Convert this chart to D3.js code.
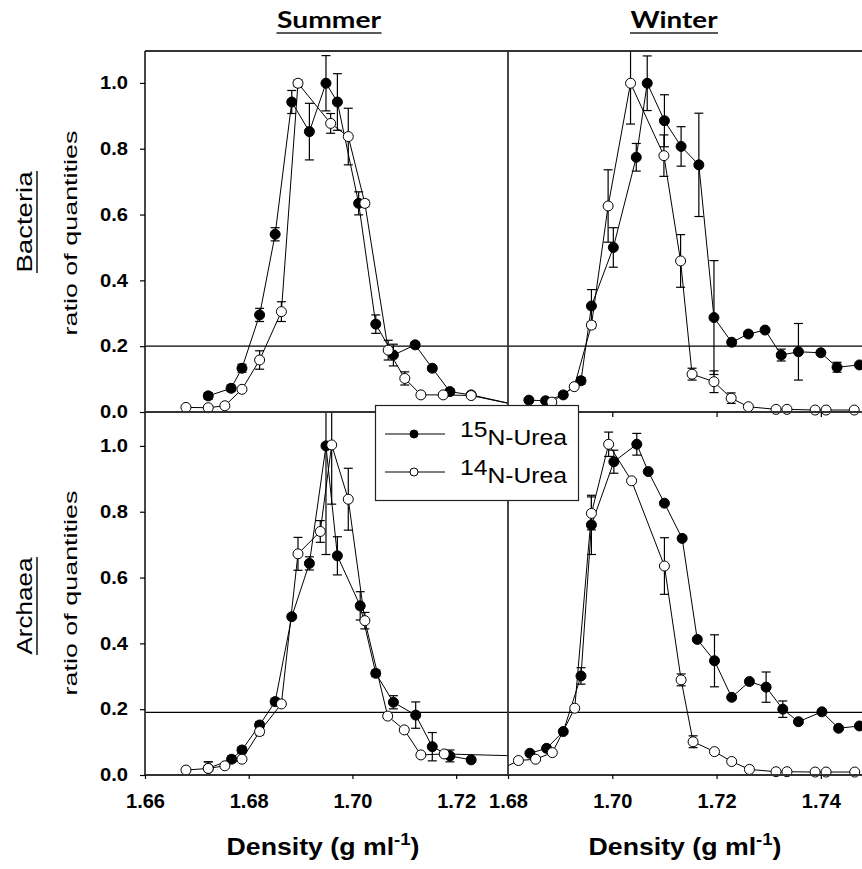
<!DOCTYPE html>
<html lang="en">
<head>
<meta charset="UTF-8">
<title>15N / 14N urea SIP gradients</title>
<script src="https://unpkg.com/d3@7/dist/d3.min.js"></script>
<style>
  body { margin: 0; background: #fff; }
  svg text { font-family: "Liberation Sans", Arial, sans-serif; fill: #000; }
</style>
</head>
<body>
<div id="chart"></div>
<script>
// ---- data ----
// Summer / Bacteria
const sumBac15_x = [1.6722, 1.6766, 1.6787, 1.6821, 1.6851, 1.6883, 1.6917, 1.6949, 1.6971, 1.7012, 1.7045, 1.7079, 1.7121, 1.7154, 1.7188, 1.7229, 1.7320];
const sumBac15_y = [0.049, 0.072, 0.133, 0.295, 0.540, 0.942, 0.852, 0.999, 0.942, 0.634, 0.267, 0.173, 0.204, 0.133, 0.062, 0.052, 0.020];
const sumBac15_e = [0.010, 0.010, 0.012, 0.020, 0.020, 0.035, 0.086, 0.084, 0.086, 0.035, 0.028, 0.033, 0.008, 0.008, 0.008, 0.006, 0];
const sumBac14_x = [1.6679, 1.6722, 1.6754, 1.6787, 1.6821, 1.6863, 1.6895, 1.6958, 1.6992, 1.7024, 1.7069, 1.7101, 1.7132, 1.7175, 1.7229, 1.7320];
const sumBac14_y = [0.014, 0.013, 0.019, 0.069, 0.158, 0.305, 0.999, 0.877, 0.837, 0.634, 0.188, 0.102, 0.052, 0.052, 0.050, 0.020];
const sumBac14_e = [0.005, 0.005, 0.005, 0.006, 0.028, 0.030, 0.010, 0.030, 0.086, 0.010, 0.030, 0.020, 0.005, 0.005, 0, 0];

// Winter / Bacteria
const winBac15_x = [1.6840, 1.6872, 1.6906, 1.6940, 1.6960, 1.7002, 1.7046, 1.7067, 1.7100, 1.7132, 1.7166, 1.7195, 1.7229, 1.7261, 1.7293, 1.7324, 1.7357, 1.7400, 1.7431, 1.7474];
const winBac15_y = [0.036, 0.034, 0.052, 0.095, 0.322, 0.500, 0.774, 0.999, 0.885, 0.807, 0.751, 0.287, 0.212, 0.237, 0.249, 0.173, 0.183, 0.180, 0.136, 0.143];
const winBac15_e = [0, 0, 0.005, 0.010, 0.050, 0.060, 0.042, 0.083, 0.079, 0.060, 0.157, 0.173, 0.008, 0.008, 0.005, 0.018, 0.086, 0.005, 0.015, 0.005];
const winBac14_x = [1.6884, 1.6927, 1.6960, 1.6992, 1.7035, 1.7099, 1.7131, 1.7153, 1.7195, 1.7228, 1.7261, 1.7314, 1.7335, 1.7389, 1.7410, 1.7464];
const winBac14_y = [0.030, 0.077, 0.264, 0.626, 0.999, 0.779, 0.459, 0.115, 0.092, 0.042, 0.016, 0.008, 0.008, 0.006, 0.006, 0.006];
const winBac14_e = [0, 0.005, 0.010, 0.110, 0.124, 0.063, 0.080, 0.018, 0.033, 0.016, 0.005, 0, 0, 0, 0, 0];

// Summer / Archaea
const sumArc15_x = [1.6722, 1.6767, 1.6787, 1.6821, 1.6851, 1.6883, 1.6917, 1.6949, 1.6971, 1.7015, 1.7045, 1.7079, 1.7122, 1.7154, 1.7188, 1.7229];
const sumArc15_y = [0.020, 0.048, 0.076, 0.152, 0.223, 0.481, 0.643, 1.000, 0.666, 0.514, 0.309, 0.221, 0.182, 0.086, 0.058, 0.046];
const sumArc15_e = [0.020, 0.010, 0.010, 0.010, 0.010, 0.005, 0.020, 0.330, 0.058, 0.043, 0.010, 0.020, 0.040, 0.043, 0.018, 0.005];
const sumArc14_x = [1.6679, 1.6722, 1.6754, 1.6787, 1.6821, 1.6863, 1.6895, 1.6938, 1.6960, 1.6992, 1.7024, 1.7068, 1.7100, 1.7132, 1.7177, 1.7320];
const sumArc14_y = [0.015, 0.020, 0.028, 0.048, 0.132, 0.216, 0.672, 0.740, 1.003, 0.838, 0.469, 0.179, 0.137, 0.061, 0.064, 0.058];
const sumArc14_e = [0, 0.020, 0, 0, 0.010, 0.005, 0.050, 0.033, 0.180, 0.094, 0.025, 0.005, 0.005, 0.005, 0.005, 0];

// Winter / Archaea
const winArc15_x = [1.6842, 1.6874, 1.6906, 1.6940, 1.6960, 1.7003, 1.7047, 1.7069, 1.7100, 1.7134, 1.7163, 1.7196, 1.7229, 1.7263, 1.7295, 1.7327, 1.7357, 1.7402, 1.7434, 1.7474];
const winArc15_y = [0.066, 0.081, 0.132, 0.301, 0.760, 0.952, 1.005, 0.922, 0.826, 0.719, 0.412, 0.347, 0.236, 0.284, 0.267, 0.200, 0.162, 0.192, 0.142, 0.149];
const winArc15_e = [0.005, 0.005, 0.005, 0.025, 0.090, 0.035, 0.033, 0.005, 0.005, 0.005, 0.005, 0.079, 0.005, 0.005, 0.046, 0.025, 0.005, 0.005, 0.005, 0.005];
const winArc14_x = [1.6790, 1.6820, 1.6853, 1.6885, 1.6928, 1.6960, 1.6993, 1.7037, 1.7100, 1.7132, 1.7155, 1.7196, 1.7229, 1.7263, 1.7314, 1.7335, 1.7389, 1.7410, 1.7465];
const winArc14_y = [0.020, 0.044, 0.048, 0.068, 0.203, 0.795, 1.005, 0.894, 0.635, 0.289, 0.101, 0.071, 0.041, 0.017, 0.010, 0.010, 0.009, 0.009, 0.009];
const winArc14_e = [0, 0, 0, 0, 0.005, 0.050, 0.037, 0.005, 0.086, 0.018, 0.018, 0.005, 0.005, 0, 0, 0, 0, 0, 0];

const summerDomain = [1.66, 1.73];
const winterDomain = [1.68, 1.75];
const summerTicks = [1.66, 1.68, 1.70, 1.72];
const winterTicks = [1.68, 1.70, 1.72, 1.74];
const yTicks = [0, 0.2, 0.4, 0.6, 0.8, 1.0];
const refLevels = [0.2, 0.19];   // horizontal guide line, bacteria / archaea
const seriesNames = ['15', '14'];  // isotope superscripts for the legend

// ---- layout ----
const W = 862, H = 869;
const svg = d3.select('#chart').append('svg').attr('width', W).attr('height', H);

const xSummer = d3.scaleLinear().domain(summerDomain).range([145, 508]);
const xWinter = d3.scaleLinear().domain(winterDomain).range([508, 873]);
const yTop = d3.scaleLinear().domain([0, 1.1]).range([412, 50]);
const yBot = d3.scaleLinear().domain([0, 1.1]).range([775, 413]);

const zip = (xs, ys, es) => xs.map((d, i) => ({d: d, v: ys[i], e: es[i]}));

const panels = [
  {id: 'sb', x: xSummer, y: yTop, ref: refLevels[0], s15: zip(sumBac15_x, sumBac15_y, sumBac15_e), s14: zip(sumBac14_x, sumBac14_y, sumBac14_e)},
  {id: 'wb', x: xWinter, y: yTop, ref: refLevels[0], s15: zip(winBac15_x, winBac15_y, winBac15_e), s14: zip(winBac14_x, winBac14_y, winBac14_e)},
  {id: 'sa', x: xSummer, y: yBot, ref: refLevels[1], s15: zip(sumArc15_x, sumArc15_y, sumArc15_e), s14: zip(sumArc14_x, sumArc14_y, sumArc14_e)},
  {id: 'wa', x: xWinter, y: yBot, ref: refLevels[1], s15: zip(winArc15_x, winArc15_y, winArc15_e), s14: zip(winArc14_x, winArc14_y, winArc14_e)}
];

const defs = svg.append('defs');

panels.forEach(function (p) {
  const x0 = p.x.range()[0], x1 = Math.min(p.x.range()[1], W);
  const yT = p.y(1.1), yB = p.y(0);
  defs.append('clipPath').attr('id', 'clip-' + p.id)
    .append('rect').attr('x', x0).attr('y', yT).attr('width', x1 - x0).attr('height', yB - yT + 4);

  const g = svg.append('g').attr('clip-path', 'url(#clip-' + p.id + ')');

  g.append('line')
    .attr('x1', x0).attr('x2', x1)
    .attr('y1', p.y(p.ref)).attr('y2', p.y(p.ref))
    .attr('stroke', '#000').attr('stroke-width', 1.2);

  const line = d3.line().x(d => p.x(d.d)).y(d => p.y(d.v));
  [p.s15, p.s14].forEach(function (s) {
    g.append('path').datum(s).attr('d', line)
      .attr('fill', 'none').attr('stroke', '#000').attr('stroke-width', 1);
  });

  [p.s15, p.s14].forEach(function (s) {
    const eb = g.append('g').attr('stroke', '#000').attr('stroke-width', 1.2);
    s.filter(d => d.e > 0.004).forEach(function (d) {
      const cx = p.x(d.d), lo = p.y(d.v - d.e), hi = p.y(d.v + d.e);
      eb.append('line').attr('x1', cx).attr('x2', cx).attr('y1', lo).attr('y2', hi);
      eb.append('line').attr('x1', cx - 4.5).attr('x2', cx + 4.5).attr('y1', lo).attr('y2', lo);
      eb.append('line').attr('x1', cx - 4.5).attr('x2', cx + 4.5).attr('y1', hi).attr('y2', hi);
    });
  });

  g.append('g').selectAll('circle').data(p.s15).join('circle')
    .attr('cx', d => p.x(d.d)).attr('cy', d => p.y(d.v)).attr('r', 5)
    .attr('fill', '#000').attr('stroke', '#000').attr('stroke-width', 1);
  g.append('g').selectAll('circle').data(p.s14).join('circle')
    .attr('cx', d => p.x(d.d)).attr('cy', d => p.y(d.v)).attr('r', 5)
    .attr('fill', '#fff').attr('stroke', '#000').attr('stroke-width', 1);
});

// ---- frame ----
const frame = svg.append('g').attr('stroke', '#333').attr('stroke-width', 1.8).attr('fill', 'none');
[[145, 51, W, 51], [145, 412, W, 412], [145, 775, W, 775], [145, 51, 145, 775], [508, 51, 508, 775]]
  .forEach(function (l) {
    frame.append('line').attr('x1', l[0]).attr('y1', l[1]).attr('x2', l[2]).attr('y2', l[3]);
  });

// ---- axes ----
function styleAxis(sel, size, len) {
  sel.select('.domain').remove();
  sel.selectAll('.tick line').attr('stroke', '#000').attr('stroke-width', 1.2);
  sel.selectAll('.tick text')
    .attr('font-family', '"Liberation Sans", Arial, sans-serif')
    .attr('font-weight', 'bold').attr('font-size', size).attr('fill', '#000')
    .attr('textLength', len || null).attr('lengthAdjust', 'spacingAndGlyphs');
}

[yTop, yBot].forEach(function (y) {
  svg.append('g').attr('transform', 'translate(145,0)')
    .call(d3.axisLeft(y).tickValues(yTicks).tickSize(5).tickPadding(12).tickFormat(d3.format('.1f')))
    .call(styleAxis, 18, 28);
});

svg.append('g').attr('transform', 'translate(0,775)')
  .call(d3.axisBottom(xSummer).tickValues(summerTicks).tickSize(4).tickPadding(15).tickFormat(d3.format('.2f')))
  .call(styleAxis, 20, 39);
svg.append('g').attr('transform', 'translate(0,775)')
  .call(d3.axisBottom(xWinter).tickValues(winterTicks).tickSize(4).tickPadding(15).tickFormat(d3.format('.2f')))
  .call(styleAxis, 20, 39);
// small ticks under the top-right panel
svg.append('g').attr('transform', 'translate(0,412)')
  .call(d3.axisBottom(xWinter).tickValues(winterTicks.slice(1)).tickSize(5).tickFormat(''))
  .call(styleAxis, 0);

// ---- labels ----
function stretchTo(textSel, target) {
  const w = textSel.node().getBBox().width;
  textSel.attr('transform', 'scale(' + (target / w) + ',1)');
}

function label(cx, cy, rot, txt, opts) {
  const g = svg.append('g').attr('transform', 'translate(' + cx + ',' + cy + ')' + (rot ? ' rotate(' + rot + ')' : ''));
  const t = g.append('text').attr('text-anchor', 'middle')
    .attr('font-size', opts.size).attr('font-weight', opts.weight || 'normal')
    .style('font-family', opts.family || '"Liberation Sans", Arial, sans-serif')
    .text(txt);
  if (opts.width) stretchTo(t, opts.width);
  if (opts.underline) {
    const w = opts.width || t.node().getBBox().width;
    g.append('line').attr('x1', -w / 2).attr('x2', w / 2)
      .attr('y1', opts.underline).attr('y2', opts.underline)
      .attr('stroke', '#222').attr('stroke-width', 1.6);
  }
  return g;
}

label(329, 28, 0, 'Summer', {size: 22, weight: 'bold', family: 'Lato, "Open Sans", sans-serif', width: 105, underline: 5});
label(674, 28, 0, 'Winter', {size: 22, weight: 'bold', family: 'Lato, "Open Sans", sans-serif', width: 88, underline: 5});

label(32, 222, -90, 'Bacteria', {size: 22, width: 102, underline: 5});
label(32, 606, -90, 'Archaea', {size: 22, width: 98, underline: 5});
label(77, 233, -90, 'ratio of quantities', {size: 19, width: 205});
label(77, 593, -90, 'ratio of quantities', {size: 19, width: 205});

function densityLabel(cx) {
  const g = svg.append('g').attr('transform', 'translate(' + cx + ',855)');
  const t = g.append('text').attr('text-anchor', 'middle')
    .attr('font-size', 23).attr('font-weight', 'bold');
  t.append('tspan').text('Density (g ml');
  t.append('tspan').attr('dy', -10).attr('font-size', 16).text('-1');
  t.append('tspan').attr('dy', 10).text(')');
  stretchTo(t, 193);
}
densityLabel(323);
densityLabel(685);

// ---- legend ----
const leg = svg.append('g');
leg.append('rect').attr('x', 375.5).attr('y', 405.5).attr('width', 203).attr('height', 95)
  .attr('fill', '#fff').attr('stroke', '#222').attr('stroke-width', 1.2);
seriesNames.forEach(function (iso, i) {
  const cy = 434 + i * 38;
  leg.append('line').attr('x1', 385).attr('x2', 445).attr('y1', cy).attr('y2', cy)
    .attr('stroke', '#000').attr('stroke-width', 1);
  leg.append('circle').attr('cx', 414).attr('cy', cy).attr('r', 4)
    .attr('fill', i === 0 ? '#000' : '#fff').attr('stroke', '#000').attr('stroke-width', 1);
  const tg = leg.append('g').attr('transform', 'translate(460,' + (cy + 11) + ')');
  const t = tg.append('text').attr('font-size', 22).attr('fill', '#111');
  t.append('tspan').attr('dy', -8).text(iso);
  t.append('tspan').attr('dy', 8).text('N-Urea');
  stretchTo(t, 108);
});
</script>
</body>
</html>
